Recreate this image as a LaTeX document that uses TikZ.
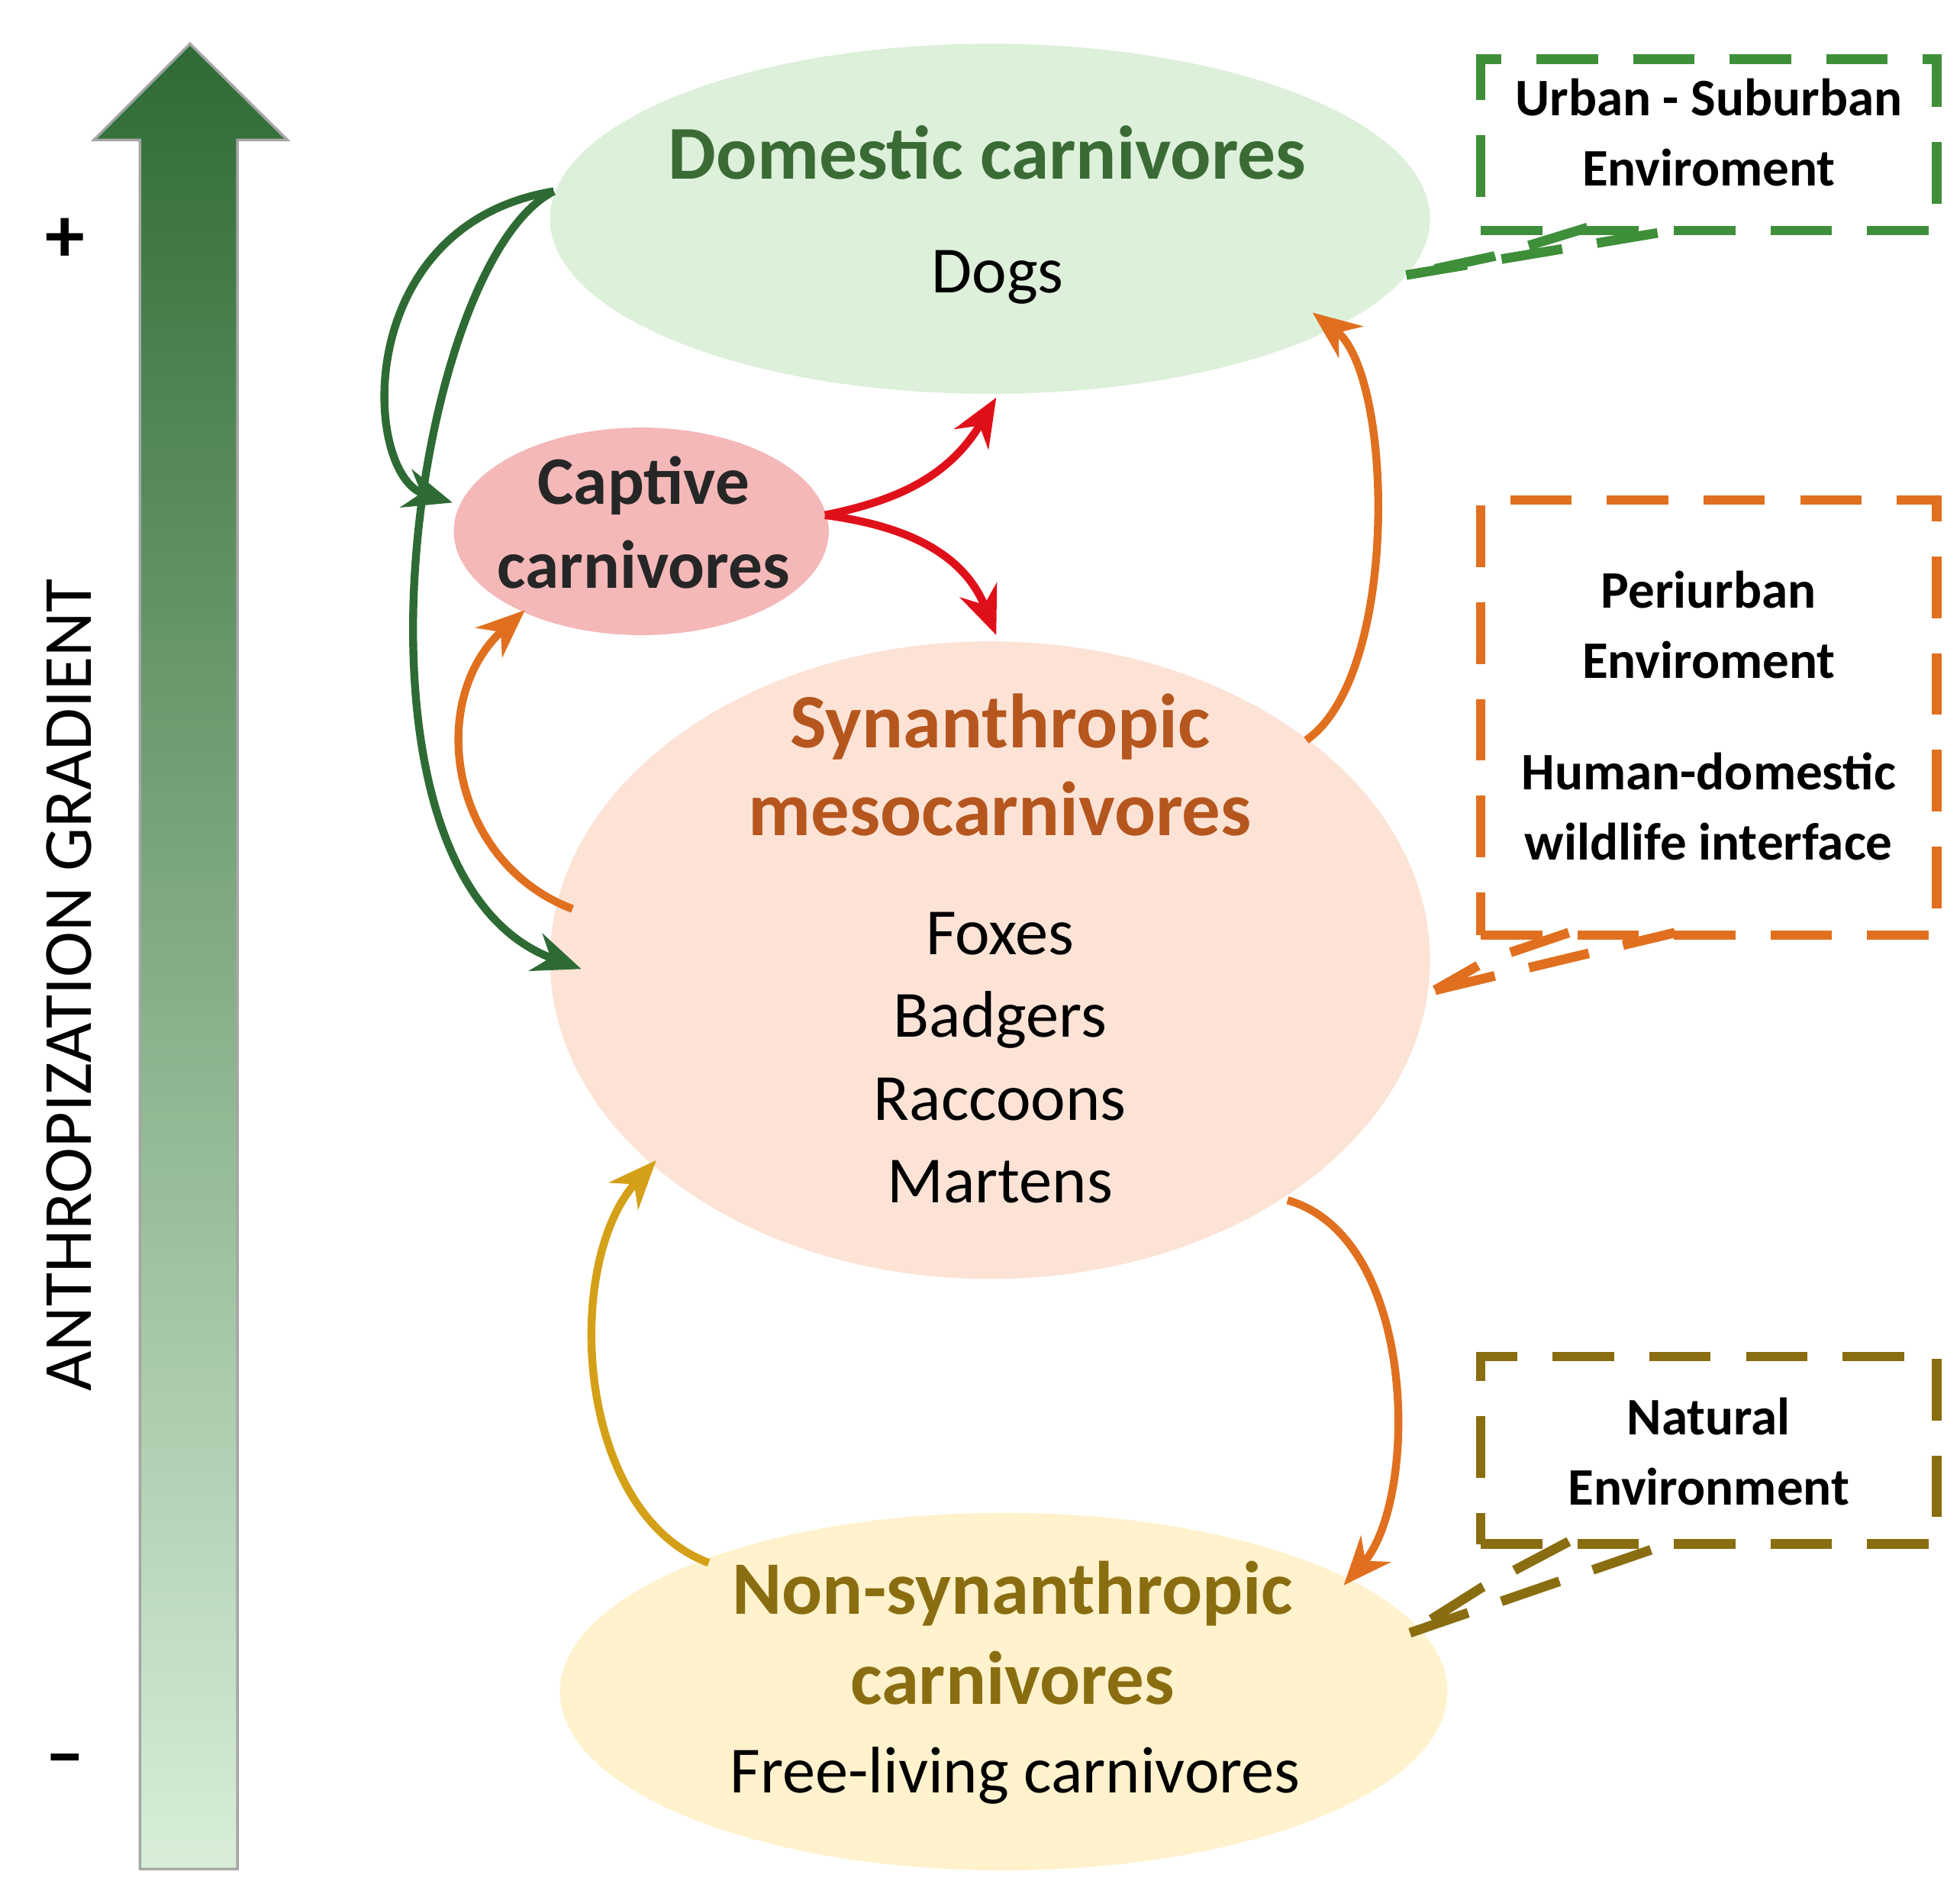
\documentclass[tikz,border=0pt]{standalone}
\usepackage{fontspec}
\setmainfont{Carlito}
\usetikzlibrary{shapes.geometric,arrows.meta}
\definecolor{dkgreen}{HTML}{2E6B34}
\definecolor{titlegreen}{HTML}{3A6B35}
\definecolor{orng}{HTML}{E0701F}
\definecolor{brwn}{HTML}{B5561E}
\definecolor{olive}{HTML}{8A6D10}
\definecolor{gold}{HTML}{D4A017}
\definecolor{redar}{HTML}{E0101A}
\definecolor{bgreen}{HTML}{3F8F3A}
\begin{document}
\begin{tikzpicture}[x=0.1mm,y=-0.1mm,
  ell/.style={ellipse,draw=none,inner sep=0pt},
  ttl/.style={font=\fontsize{17.3}{23}\selectfont\bfseries,align=center},
  itm/.style={font=\fontsize{15}{19}\selectfont},
  box/.style={draw,line width=2.2pt,dash pattern=on 14pt off 8pt},
  btxt/.style={font=\fontsize{12}{16}\selectfont\bfseries,align=center},
  arr/.style={line width=1.8pt,-{Stealth[length=11pt,width=9pt]}}]
\useasboundingbox (0,0) rectangle (1568,1517);
% gradient arrow
\shade[top color=dkgreen,bottom color={rgb,255:red,216;green,238;blue,216},draw=gray!70,line width=0.6pt]
 (112,1495) -- (112,112) -- (75,112) -- (152,35) -- (230,112) -- (190,112) -- (190,1495) -- cycle;
\node[font=\fontsize{18}{20}\selectfont\bfseries] (plus) at (52,192) {+};
\node[font=\fontsize{18}{20}\selectfont\bfseries] (minus) at (52,1413) {--};
\node[rotate=90,font=\fontsize{15.7}{19}\selectfont] (grad) at (55,788) {ANTHROPIZATION GRADIENT};
% ellipses
\node[ell,fill={rgb,255:red,221;green,240;blue,218},minimum width=70.4mm,minimum height=28mm] (dom) at (792,175) {};
\node[ttl,text=titlegreen] (domt) at (790,122) {Domestic carnivores};
\node[itm] (dogs) at (798,222) {Dogs};
\node[ell,fill={rgb,255:red,244;green,184;blue,184},minimum width=30mm,minimum height=16.6mm] (cap) at (513,425) {};
\node[ttl,text=black!85,font=\fontsize{15.5}{19}\selectfont\bfseries] (capt) at (515,418) {Captive\\carnivores};
\node[ell,fill={rgb,255:red,252;green,227;blue,214},minimum width=70.4mm,minimum height=51mm] (syn) at (792,768) {};
\node[ttl,text=brwn,font=\fontsize{17.5}{20}\selectfont\bfseries] (synt) at (800,612) {Synanthropic\\mesocarnivores};
\node[itm,align=center,font=\fontsize{15}{18.8}\selectfont] (syni) at (800,846) {Foxes\\Badgers\\Raccoons\\Martens};
\node[ell,fill={rgb,255:red,255;green,242;blue,204},minimum width=71mm,minimum height=28.6mm] (non) at (803,1353) {};
\node[ttl,text=olive,font=\fontsize{17.2}{20.5}\selectfont\bfseries] (nont) at (810,1306) {Non-synanthropic\\carnivores};
\node[itm] (free) at (812,1420) {Free-living carnivores};
% boxes
\node[box,draw=bgreen,minimum width=36.5mm,minimum height=13.7mm] (b1) at (1367,116) {};
\node[btxt] at (1367,106) {Urban - Suburban\\Enviroment};
\node[box,draw=orng,minimum width=36.5mm,minimum height=34.8mm] (b2) at (1367,574) {};
\node[btxt] at (1367,500) {Periurban\\Enviroment};
\node[btxt] at (1367,645) {Human-domestic\\wildlife interface};
\node[box,draw=olive,minimum width=36.5mm,minimum height=15mm] (b3) at (1367,1160) {};
\node[btxt] at (1367,1161) {Natural\\Environment};
% callout tails
\coordinate (t1) at (1125,220);
\draw[box,draw=bgreen] (1270,182) -- (1195,205) -- (t1) (t1) -- (1340,184);
\coordinate (t2) at (1148,792);
\draw[box,draw=orng] (1255,746) -- (1190,768) -- (t2) (t2) -- (1340,746);
\coordinate (t3) at (1128,1306);
\draw[box,draw=olive] (1255,1233) -- (1185,1270) -- (t3) (t3) -- (1340,1233);
% arrows
\coordinate (dl) at (443,153);
\coordinate (capl) at (362,402);
\coordinate (synl) at (465,775);
\draw[arr,dkgreen] (dl) .. controls (280,180) and (290,380) .. (capl);
\draw[arr,dkgreen] (dl) .. controls (330,210) and (260,700) .. (synl);
\coordinate (capr) at (660,412);
\coordinate (r1) at (797,318);
\coordinate (r2) at (797,508);
\draw[arr,redar] (capr) .. controls (720,400) and (760,380) .. (r1);
\draw[arr,redar] (capr) .. controls (720,420) and (770,440) .. (r2);
\coordinate (s1) at (458,727);
\coordinate (capb) at (420,488);
\draw[arr,orng] (s1) .. controls (360,690) and (340,560) .. (capb);
\coordinate (s2) at (1045,592);
\coordinate (db) at (1050,250);
\draw[arr,orng] (s2) .. controls (1120,540) and (1115,300) .. (db);
\coordinate (s3) at (1030,960);
\coordinate (nt) at (1075,1268);
\draw[arr,orng] (s3) .. controls (1135,990) and (1135,1200) .. (nt);
\coordinate (n1) at (567,1250);
\coordinate (s4) at (525,928);
\draw[arr,gold] (n1) .. controls (460,1210) and (450,1010) .. (s4);
\end{tikzpicture}
\end{document}
